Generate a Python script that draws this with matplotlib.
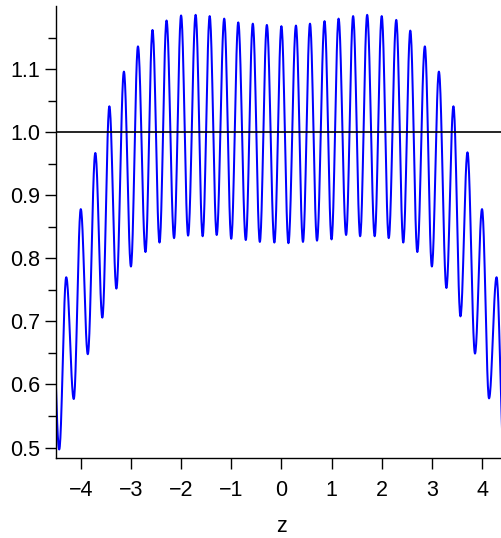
import numpy as np
import matplotlib
matplotlib.use("Agg")
import matplotlib.pyplot as plt

plt.rcParams['font.family'] = ['Liberation Sans', 'DejaVu Sans']

# peaks of the oscillation (z, value); the outermost pair lies just outside the plot
peak_z = [-4.57, -4.29, -4.00, -3.71, -3.43, -3.14, -2.86, -2.57, -2.29, -2.00, -1.71,
          -1.43, -1.14, -0.86, -0.57, -0.29, 0.00, 0.29, 0.57, 0.86, 1.14, 1.43, 1.71,
          2.00, 2.29, 2.57, 2.86, 3.14, 3.43, 3.71, 4.00, 4.29, 4.57]
peak_val = [0.720, 0.770, 0.878, 0.967, 1.041, 1.096, 1.136, 1.162, 1.177, 1.185, 1.186,
            1.184, 1.180, 1.174, 1.172, 1.170, 1.168, 1.169, 1.172, 1.176, 1.180, 1.184, 1.186,
            1.184, 1.178, 1.161, 1.136, 1.096, 1.041, 0.968, 0.878, 0.770, 0.720]

# troughs between the peaks
trough_z = [-4.43, -4.14, -3.86, -3.57, -3.29, -3.00, -2.71, -2.43, -2.14, -1.86, -1.57,
            -1.29, -1.00, -0.71, -0.43, -0.14, 0.14, 0.43, 0.71, 1.00, 1.29, 1.57, 1.86,
            2.14, 2.43, 2.71, 3.00, 3.29, 3.57, 3.86, 4.14, 4.43]
trough_val = [0.497, 0.577, 0.648, 0.706, 0.752, 0.787, 0.810, 0.825, 0.832, 0.836, 0.835,
              0.837, 0.831, 0.829, 0.826, 0.825, 0.824, 0.826, 0.828, 0.830, 0.837, 0.835, 0.835,
              0.832, 0.825, 0.810, 0.787, 0.753, 0.708, 0.649, 0.578, 0.497]

x_ticks = [-4, -3, -2, -1, 0, 1, 2, 3, 4]
y_ticks = [0.5, 0.6, 0.7, 0.8, 0.9, 1.0, 1.1]
y_minor = [0.55, 0.65, 0.75, 0.85, 0.95, 1.05, 1.15]

# join the extrema with smooth half-cosine arcs
ext = sorted(zip(peak_z + trough_z, peak_val + trough_val))
zs, vs = [], []
t = np.linspace(0, 1, 25)
for (z0, v0), (z1, v1) in zip(ext[:-1], ext[1:]):
    zs.append(z0 + (z1 - z0) * t)
    vs.append(v0 + (v1 - v0) * (1 - np.cos(np.pi * t)) / 2)
zs = np.concatenate(zs)
vs = np.concatenate(vs)

W, H = 501, 538
fig = plt.figure(figsize=(W / 100, H / 100), dpi=100)
# axes runs a little past the right edge of the picture
ax = fig.add_axes([55.7 / W, (H - 458.3) / H, 451.4 / W, 452.3 / H])

ax.plot(zs, vs, color='#0000ff', lw=1.45)
ax.axhline(1.0, color='black', lw=1.2, zorder=3)

ax.set_xlim(-4.5, 4.5)
ax.set_ylim(0.483, 1.2)

for s in ['top', 'right']:
    ax.spines[s].set_visible(False)
for s in ['left', 'bottom']:
    ax.spines[s].set_linewidth(1.0)

ax.set_xticks(x_ticks)
ax.set_xticklabels([str(v).replace('-', '\u2212') for v in x_ticks])
ax.set_yticks(y_ticks)
ax.set_yticklabels(['%.1f' % v for v in y_ticks])
ax.set_yticks(y_minor, minor=True)

ax.tick_params(axis='both', which='major', direction='out', length=8, width=1.0,
               labelsize=15.5, colors='black')
ax.tick_params(axis='y', which='major', pad=3)
ax.tick_params(axis='x', which='major', pad=7.5)
ax.tick_params(axis='y', which='minor', direction='out', length=5.5, width=1.0)

ax.set_xlabel('z', fontsize=15.5, labelpad=11)

fig.savefig('out.png', dpi=100)
